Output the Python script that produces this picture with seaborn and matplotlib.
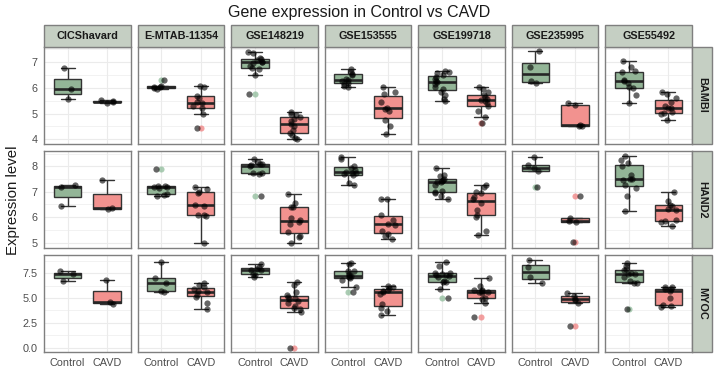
import numpy as np
import pandas as pd
import matplotlib
matplotlib.use("Agg")
import matplotlib.pyplot as plt
import seaborn as sns
from matplotlib.patches import Rectangle
from matplotlib.ticker import AutoMinorLocator, FixedLocator

# ---------------- data ----------------
datasets = ["CICShavard", "E-MTAB-11354", "GSE148219", "GSE153555",
            "GSE199718", "GSE235995", "GSE55492"]
genes = ["BAMBI", "HAND2", "MYOC"]
groups = ["Control", "CAVD"]

# values per dataset (same order as `datasets`)
bambi_control = [
    [5.55, 5.94, 6.77],
    [5.96, 5.98, 6.02, 6.05, 6.08, 6.30],
    [5.75, 6.50, 6.75, 6.78, 6.85, 6.95, 7.00, 7.02, 7.08, 7.12, 7.15, 7.35, 7.38],
    [6.05, 6.08, 6.15, 6.20, 6.25, 6.30, 6.35, 6.50, 6.55, 6.62, 6.75],
    [5.50, 5.55, 5.72, 5.85, 5.95, 6.05, 6.15, 6.22, 6.28, 6.35, 6.42, 6.50, 6.58, 6.62, 6.65],
    [6.20, 6.25, 6.80, 7.42],
    [5.40, 5.72, 5.98, 6.05, 6.20, 6.27, 6.30, 6.60, 6.65, 6.80, 7.03],
]
bambi_cavd = [
    [5.42, 5.46, 5.48, 5.53],
    [4.43, 5.00, 5.20, 5.30, 5.40, 5.45, 5.60, 5.70, 6.05, 6.08],
    [4.00, 4.05, 4.15, 4.25, 4.35, 4.50, 4.60, 4.70, 4.80, 4.87, 4.95, 5.00, 5.05],
    [4.20, 4.50, 4.75, 5.10, 5.18, 5.22, 5.45, 5.75, 5.85, 6.05],
    [4.62, 4.85, 5.10, 5.30, 5.40, 5.48, 5.53, 5.58, 5.65, 5.72, 5.85, 5.95, 6.05],
    [4.50, 4.53, 4.57, 5.35, 5.42],
    [4.75, 4.98, 5.02, 5.05, 5.20, 5.23, 5.30, 5.45, 5.60, 5.75, 5.85],
]
hand2_control = [
    [6.43, 7.17, 7.25],
    [6.83, 6.86, 6.90, 7.15, 7.18, 7.20, 7.22, 7.23, 7.90],
    [6.85, 7.70, 7.72, 7.75, 8.00, 8.05, 8.07, 8.10, 8.15, 8.30],
    [7.28, 7.33, 7.66, 7.68, 7.72, 7.75, 7.78, 7.85, 7.95, 8.00, 8.30, 8.38],
    [6.70, 6.85, 6.95, 7.00, 7.02, 7.25, 7.38, 7.40, 7.42, 7.45, 7.50, 7.60, 7.65, 7.93],
    [7.19, 7.80, 7.93, 8.05, 8.38],
    [6.24, 6.82, 7.15, 7.25, 7.45, 7.48, 7.50, 7.67, 8.00, 8.13, 8.26, 8.42],
]
hand2_cavd = [
    [6.33, 6.35, 7.45],
    [5.00, 6.05, 6.08, 6.10, 6.45, 6.48, 6.95, 7.00, 7.12, 7.20],
    [4.97, 5.22, 5.28, 5.42, 5.72, 5.80, 5.90, 5.98, 6.40, 6.42, 6.54, 6.92],
    [5.15, 5.25, 5.35, 5.45, 5.70, 5.75, 5.90, 6.10, 6.70, 6.72],
    [5.32, 5.45, 6.02, 6.10, 6.30, 6.56, 6.70, 6.80, 6.95, 7.00, 7.20, 7.28],
    [5.03, 5.80, 5.87, 5.95, 6.82],
    [5.65, 5.82, 5.85, 5.88, 6.28, 6.32, 6.43, 6.48, 6.63, 7.00],
]
myoc_control = [
    [6.70, 7.40, 7.70],
    [5.60, 5.70, 6.55, 7.00, 8.60],
    [7.15, 7.30, 7.45, 7.80, 7.85, 7.95, 8.10, 8.40],
    [5.60, 6.10, 6.85, 7.05, 7.15, 7.25, 7.30, 7.45, 7.70, 7.75, 8.45, 8.50],
    [5.05, 5.90, 6.60, 6.65, 6.70, 7.10, 7.20, 7.30, 7.35, 7.45, 7.50, 7.55, 8.20, 8.65],
    [6.50, 7.10, 8.15, 8.87],
    [3.85, 6.50, 6.55, 6.70, 7.15, 7.40, 7.45, 7.55, 7.80, 7.95, 8.20, 8.55],
]
myoc_cavd = [
    [4.40, 4.60, 6.80],
    [3.90, 4.55, 5.10, 5.35, 5.60, 5.70, 5.90, 6.10, 6.35, 6.50],
    [0.00, 3.55, 3.90, 4.00, 4.15, 4.55, 4.75, 4.90, 5.00, 5.10, 5.30, 5.60, 6.35, 6.65],
    [3.30, 3.70, 4.00, 4.40, 5.40, 5.65, 5.75, 5.85, 6.05, 6.15, 6.20],
    [3.10, 4.50, 4.90, 5.00, 5.50, 5.60, 5.65, 5.70, 5.78, 5.85, 6.25, 7.00],
    [2.20, 4.50, 4.85, 4.95, 5.25, 5.55],
    [4.05, 4.20, 4.30, 5.05, 5.75, 5.90, 5.95, 6.10, 6.12],
]

bambi_ticks = [4, 5, 6, 7]
hand2_ticks = [5, 6, 7, 8]
myoc_ticks = [0.0, 2.5, 5.0, 7.5]
bambi_ticklabels = ["4", "5", "6", "7"]
hand2_ticklabels = ["5", "6", "7", "8"]
myoc_ticklabels = ["0.0", "2.5", "5.0", "7.5"]

title = "Gene expression in Control vs CAVD"
ylabel = "Expression level"

# ---------------- long table ----------------
gene_values = {
    "BAMBI": (bambi_control, bambi_cavd),
    "HAND2": (hand2_control, hand2_cavd),
    "MYOC": (myoc_control, myoc_cavd),
}
rows = []
for g, (ctrl, cavd) in gene_values.items():
    for d, c_vals, v_vals in zip(datasets, ctrl, cavd):
        rows += [(g, d, "Control", v) for v in c_vals]
        rows += [(g, d, "CAVD", v) for v in v_vals]
df = pd.DataFrame(rows, columns=["gene", "dataset", "group", "value"])

row_ticks = {"BAMBI": (bambi_ticks, bambi_ticklabels),
             "HAND2": (hand2_ticks, hand2_ticklabels),
             "MYOC": (myoc_ticks, myoc_ticklabels)}

# ---------------- style ----------------
sns.set_theme(style="white")
plt.rcParams["font.family"] = ["Liberation Sans", "DejaVu Sans"]

box_colors = {"Control": "#93B597", "CAVD": "#F2928F"}
flier_colors = {"Control": "#8FBC9A", "CAVD": "#F08080"}
strip_fc = "#C5CFC3"
edge_col = "#7F7F7F"
grid_col = "#EBEBEB"

W, H = 718, 373
fig, axes = plt.subplots(3, 7, figsize=(W / 100, H / 100), dpi=100)
fig.subplots_adjust(left=44 / W, right=692 / W, top=1 - 47 / H,
                    bottom=1 - 352 / H, wspace=0.077, hspace=0.077)

np.random.seed(3)
for i, gene in enumerate(genes):
    gsub = df[df.gene == gene]
    lo, hi = gsub.value.min(), gsub.value.max()
    pad = 0.05 * (hi - lo)
    ticks, ticklabels = row_ticks[gene]
    for j, ds in enumerate(datasets):
        ax = axes[i, j]
        sub = gsub[gsub.dataset == ds]
        sns.boxplot(data=sub, x="group", y="value", hue="group",
                    order=groups, hue_order=groups, palette=box_colors,
                    saturation=1, width=0.7, linewidth=1.0,
                    linecolor="#333333", dodge=False, legend=False,
                    flierprops=dict(marker="o", markersize=4.4,
                                    markeredgecolor="none", alpha=0.75),
                    medianprops=dict(linewidth=1.9, color="#262626"),
                    ax=ax, zorder=2)
        # colour outliers by group
        for ln in ax.lines:
            if ln.get_marker() == "o" and len(ln.get_xdata()):
                gx = int(round(float(np.mean(ln.get_xdata()))))
                ln.set_markerfacecolor(flier_colors[groups[gx]])
        sns.stripplot(data=sub, x="group", y="value", order=groups,
                      color="black", alpha=0.6, size=4.5, jitter=0.2,
                      linewidth=0, ax=ax, zorder=3)
        ax.set_xlim(-0.6, 1.6)
        ax.set_ylim(lo - pad, hi + pad)
        ax.yaxis.set_major_locator(FixedLocator(ticks))
        ax.yaxis.set_minor_locator(AutoMinorLocator(2))
        ax.grid(True, which="major", color=grid_col, lw=0.8, zorder=0)
        ax.grid(True, which="minor", axis="y", color=grid_col, lw=0.45, zorder=0)
        ax.set_axisbelow(True)
        ax.set_xlabel("")
        ax.set_ylabel("")
        for sp in ax.spines.values():
            sp.set_color(edge_col)
            sp.set_linewidth(1.0)
        ax.tick_params(axis="both", which="both", length=0,
                       labelsize=7.8, colors="#4D4D4D", pad=2)
        if j == 0:
            ax.set_yticks(ticks)
            ax.set_yticklabels(ticklabels)
            ax.tick_params(axis="y", which="major", length=2.5,
                           color="#333333", labelcolor="#4D4D4D")
        else:
            ax.set_yticklabels([])
        if i == 2:
            ax.set_xticks([0, 1])
            ax.set_xticklabels(groups)
            ax.tick_params(axis="x", which="major", length=2.5,
                           color="#333333", labelcolor="#4D4D4D")
        else:
            ax.set_xticklabels([])
        # column strips
        if i == 0:
            sh = 22 / 97
            ax.add_patch(Rectangle((0, 1), 1, sh, transform=ax.transAxes,
                                   facecolor=strip_fc, edgecolor=edge_col,
                                   lw=1.0, clip_on=False, zorder=5))
            ax.text(0.5, 1 + sh / 2, ds, transform=ax.transAxes,
                    ha="center", va="center", fontsize=7.8,
                    fontweight="bold", color="#1A1A1A", zorder=6)
        # row strips
        if j == 6:
            sw = 20 / 87
            ax.add_patch(Rectangle((1, 0), sw, 1, transform=ax.transAxes,
                                   facecolor=strip_fc, edgecolor=edge_col,
                                   lw=1.0, clip_on=False, zorder=5))
            ax.text(1 + sw / 2, 0.5, gene, transform=ax.transAxes,
                    ha="center", va="center", rotation=-90, fontsize=7.8,
                    fontweight="bold", color="#1A1A1A", zorder=6)

fig.text(0.5, 1 - 12 / H, title, ha="center", va="center",
         fontsize=11.5, color="#1A1A1A")
fig.text(13 / W, 1 - 200 / H, ylabel, ha="center", va="center",
         rotation=90, fontsize=10.8, color="#1A1A1A")

fig.savefig("out.png", dpi=100)
